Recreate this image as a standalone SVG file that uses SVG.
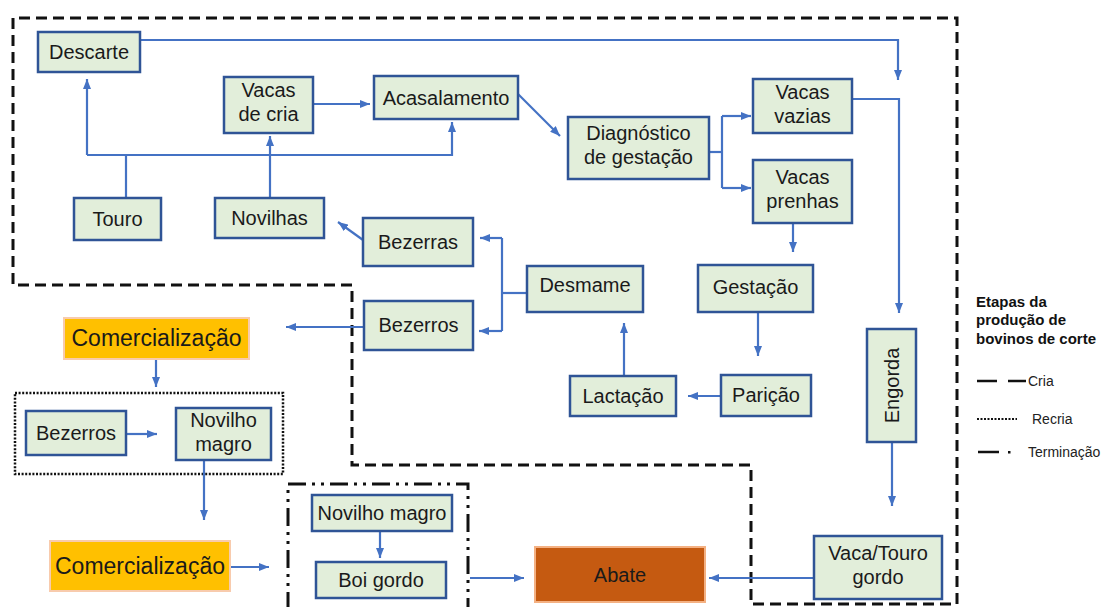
<svg xmlns="http://www.w3.org/2000/svg" width="1112" height="607" viewBox="0 0 1112 607">
<defs>
<style>
.n rect{fill:#E2EEDA;stroke:#2F5496;stroke-width:2.5}
.o rect{fill:#FFC000;stroke:#F8CBAD;stroke-width:2}
.a rect{fill:#C55A11;stroke:#F4B183;stroke-width:2}
text{font-family:"Liberation Sans",Arial,sans-serif;font-size:20px;fill:#1a1a1a;text-anchor:middle}
.big{font-size:23px}
.lg{font-size:14px;text-anchor:start;fill:#222}
.lgb{font-size:15px;font-weight:bold;text-anchor:start;fill:#111}
.c path,.c line{fill:none;stroke:#4472C4;stroke-width:2.2}
.cria{fill:none;stroke:#111;stroke-width:3;stroke-dasharray:11 6}
.recria{fill:none;stroke:#111;stroke-width:2.5;stroke-dasharray:2 1.6}
.term{fill:none;stroke:#111;stroke-width:3;stroke-dasharray:18 6 3 6 3 6}
</style>
<marker id="ar" markerUnits="userSpaceOnUse" markerWidth="10" markerHeight="8" refX="10" refY="4" orient="auto">
<path d="M0,0 L10,4 L0,8 z" fill="#4472C4"/>
</marker>
</defs>
<rect width="1112" height="607" fill="#fff"/>

<g id="regions">
<path class="cria" d="M352,285 L13,285 L13,18 L957,18 L957,604 L751,604 L751,465 L352,465 Z"/>
<rect class="recria" x="15" y="393" width="268" height="81"/>
<path class="term" d="M288,610 L288,484 L468,484 L468,610"/>
</g>

<g id="connectors" class="c">
<path d="M140,40 L898,40 L898,80" marker-end="url(#ar)"/>
<path d="M313,104 L370,104" marker-end="url(#ar)"/>
<path d="M126,198 L126,155"/>
<path d="M87,155 L87,79" marker-end="url(#ar)"/>
<path d="M87,155 L452,155 L452,122" marker-end="url(#ar)"/>
<path d="M270,198 L270,136" marker-end="url(#ar)"/>
<path d="M518,94 L560,136" marker-end="url(#ar)"/>
<path d="M709,152 L722,152"/>
<path d="M722,116 L722,188"/>
<path d="M722,116 L751,116" marker-end="url(#ar)"/>
<path d="M722,188 L751,188" marker-end="url(#ar)"/>
<path d="M852,99 L899,99 L899,313" marker-end="url(#ar)"/>
<path d="M793,223 L793,252" marker-end="url(#ar)"/>
<path d="M758,312 L758,356" marker-end="url(#ar)"/>
<path d="M721,396 L688,396" marker-end="url(#ar)"/>
<path d="M624,376 L624,323" marker-end="url(#ar)"/>
<path d="M527,293 L502,293"/>
<path d="M502,238 L502,331"/>
<path d="M502,238 L480,238" marker-end="url(#ar)"/>
<path d="M502,331 L479,331" marker-end="url(#ar)"/>
<path d="M363,240 L338,222" marker-end="url(#ar)"/>
<path d="M364,327 L286,327" marker-end="url(#ar)"/>
<path d="M156,359 L156,387" marker-end="url(#ar)"/>
<path d="M126,434 L157,434" marker-end="url(#ar)"/>
<path d="M204,460 L204,520" marker-end="url(#ar)"/>
<path d="M230,567 L269,567" marker-end="url(#ar)"/>
<path d="M380,531 L380,558" marker-end="url(#ar)"/>
<path d="M470,578 L524,578" marker-end="url(#ar)"/>
<path d="M814,578 L709,578" marker-end="url(#ar)"/>
<path d="M892,442 L892,506" marker-end="url(#ar)"/>
</g>

<g id="descarte" class="n"><rect x="38" y="32" width="102" height="40"/><text x="89" y="59">Descarte</text></g>
<g id="vacas-cria" class="n"><rect x="224" y="77" width="89" height="56"/><text x="268.5" y="97">Vacas</text><text x="268.5" y="121">de cria</text></g>
<g id="acasalamento" class="n"><rect x="374" y="76" width="144" height="43"/><text x="446" y="104.5">Acasalamento</text></g>
<g id="diagnostico" class="n"><rect x="568" y="117" width="141" height="62"/><text x="638.5" y="140">Diagnóstico</text><text x="638.5" y="164">de gestação</text></g>
<g id="vacas-vazias" class="n"><rect x="753" y="79" width="99" height="54"/><text x="802.5" y="99">Vacas</text><text x="802.5" y="123">vazias</text></g>
<g id="vacas-prenhas" class="n"><rect x="753" y="160" width="99" height="63"/><text x="802.5" y="184">Vacas</text><text x="802.5" y="208">prenhas</text></g>
<g id="touro" class="n"><rect x="74" y="198" width="87" height="42"/><text x="117.5" y="226">Touro</text></g>
<g id="novilhas" class="n"><rect x="215" y="198" width="109" height="40"/><text x="269.5" y="225">Novilhas</text></g>
<g id="bezerras" class="n"><rect x="363" y="218" width="110" height="48"/><text x="418" y="249">Bezerras</text></g>
<g id="desmame" class="n"><rect x="527" y="266" width="116" height="46"/><text x="585" y="292">Desmame</text></g>
<g id="gestacao" class="n"><rect x="698" y="265" width="115" height="47"/><text x="755.5" y="294">Gestação</text></g>
<g id="bezerros" class="n"><rect x="364" y="301" width="109" height="49"/><text x="418.5" y="332">Bezerros</text></g>
<g id="lactacao" class="n"><rect x="570" y="376" width="106" height="40"/><text x="623" y="403">Lactação</text></g>
<g id="paricao" class="n"><rect x="721" y="375" width="90" height="41"/><text x="766" y="402">Parição</text></g>
<g id="engorda" class="n"><rect x="867" y="329" width="49" height="113"/><text x="0" y="0" font-size="19" transform="translate(898.5,385.5) rotate(-90)">Engorda</text></g>
<g id="comercializacao-1" class="o"><rect x="64" y="318" width="185" height="41"/><text class="big" x="156.5" y="346">Comercialização</text></g>
<g id="bezerros-recria" class="n"><rect x="26" y="411" width="100" height="44"/><text x="76" y="440">Bezerros</text></g>
<g id="novilho-magro-recria" class="n"><rect x="176" y="408" width="95" height="52"/><text x="223.5" y="427">Novilho</text><text x="223.5" y="451">magro</text></g>
<g id="comercializacao-2" class="o"><rect x="50" y="541" width="180" height="50"/><text class="big" x="140" y="574">Comercialização</text></g>
<g id="novilho-magro-term" class="n"><rect x="312" y="495" width="140" height="36"/><text x="382" y="520">Novilho magro</text></g>
<g id="boi-gordo" class="n"><rect x="316" y="562" width="130" height="36"/><text x="381" y="587">Boi gordo</text></g>
<g id="abate" class="a"><rect x="535" y="547" width="170" height="55"/><text x="620" y="582" font-size="22">Abate</text></g>
<g id="vaca-touro-gordo" class="n"><rect x="814" y="536" width="128" height="63"/><text x="878" y="560">Vaca/Touro</text><text x="878" y="584">gordo</text></g>

<g id="legend">
<text class="lgb" x="976" y="307">Etapas da</text>
<text class="lgb" x="976" y="325">produção de</text>
<text class="lgb" x="976" y="344">bovinos de corte</text>
<line x1="977" y1="381" x2="997" y2="381" stroke="#111" stroke-width="2.5"/>
<line x1="1008" y1="381" x2="1026" y2="381" stroke="#111" stroke-width="2.5"/>
<text class="lg" x="1028" y="386">Cria</text>
<line x1="977" y1="419" x2="1017" y2="419" stroke="#111" stroke-width="2" stroke-dasharray="2 1.5"/>
<text class="lg" x="1032" y="424">Recria</text>
<line x1="978" y1="452" x2="999" y2="452" stroke="#111" stroke-width="2.5"/>
<rect x="1008" y="451" width="2.5" height="2.5" fill="#111"/>
<text class="lg" x="1028" y="457">Terminação</text>
</g>
</svg>
